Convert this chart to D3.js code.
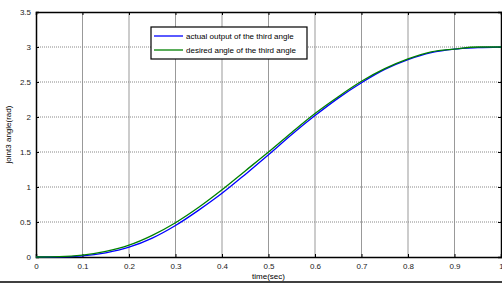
<!DOCTYPE html>
<meta charset="utf-8">
<title>joint3 angle</title>
<style>
    body { margin: 0; background: #fff; }
    text { font-family: "Liberation Sans", Arial, sans-serif; }
    .tick text { font-size: 8px; fill: #222; }
</style>

<body>
    <script src="https://d3js.org/d3.v7.min.js" charset="utf-8"></script>
    <script>
        // values
        var time = [0, 0.05, 0.1, 0.15, 0.2, 0.25, 0.3, 0.35, 0.4, 0.45, 0.5,
            0.55, 0.6, 0.65, 0.7, 0.75, 0.8, 0.85, 0.9, 0.95, 1.0];
        var actualAngle = [0, 0.001, 0.015, 0.06, 0.14, 0.27, 0.45, 0.67, 0.91, 1.18, 1.46,
            1.75, 2.02, 2.27, 2.49, 2.68, 2.82, 2.92, 2.97, 2.99, 3.0];
        var desiredAngle = [0, 0.004, 0.026, 0.08, 0.17, 0.31, 0.49, 0.71, 0.96, 1.23, 1.5,
            1.78, 2.05, 2.29, 2.51, 2.69, 2.83, 2.93, 2.97, 3.0, 3.0];
        var xTicks = [0, 0.1, 0.2, 0.3, 0.4, 0.5, 0.6, 0.7, 0.8, 0.9, 1];
        var yTicks = [0, 0.5, 1, 1.5, 2, 2.5, 3, 3.5];
        var seriesNames = ["actual output of the third angle", "desired angle of the third angle"];
        var seriesColors = ["#0000ff", "#008000"];

        var width = 502,
            height = 284;
        var plotLeft = 36, plotRight = 501, plotTop = 12, plotBottom = 257;

        var svg = d3.select("body").append("svg")
            .attr("width", width)
            .attr("height", height);

        var x = d3.scaleLinear().domain([0, 1]).range([plotLeft, plotRight]);
        var y = d3.scaleLinear().domain([0, 3.5]).range([plotBottom, plotTop]);

        // grid
        svg.append("g").selectAll("line").data(xTicks.slice(1, -1)).enter().append("line")
            .attr("x1", d => x(d)).attr("x2", d => x(d))
            .attr("y1", plotTop).attr("y2", plotBottom)
            .style("stroke", "#999").style("stroke-width", 1);
        svg.append("g").selectAll("line").data(yTicks.slice(1, -1)).enter().append("line")
            .attr("x1", plotLeft).attr("x2", plotRight)
            .attr("y1", d => y(d)).attr("y2", d => y(d))
            .style("stroke", "#888").style("stroke-width", 1)
            .style("stroke-dasharray", "1,1");

        // axes with inward ticks
        svg.append("g")
            .attr("transform", "translate(0," + plotBottom + ")")
            .call(d3.axisBottom(x).tickValues(xTicks).tickSize(-3).tickPadding(6)
                .tickFormat(d3.format("")));
        svg.append("g")
            .attr("transform", "translate(0," + plotTop + ")")
            .call(d3.axisTop(x).tickValues(xTicks).tickSize(-3).tickFormat(""));
        svg.append("g")
            .attr("transform", "translate(" + plotLeft + ",0)")
            .call(d3.axisLeft(y).tickValues(yTicks).tickSize(-3).tickPadding(5)
                .tickFormat(d3.format("")));
        svg.append("g")
            .attr("transform", "translate(" + plotRight + ",0)")
            .call(d3.axisRight(y).tickValues(yTicks).tickSize(-3).tickFormat(""));
        svg.selectAll(".domain").style("stroke", "#000").style("stroke-width", 1.5);
        svg.selectAll(".tick line").style("stroke", "#000");

        // curves
        var line = d3.line()
            .x((d, i) => x(time[i]))
            .y(d => y(d))
            .curve(d3.curveMonotoneX);
        [actualAngle, desiredAngle].forEach(function (s, k) {
            svg.append("path")
                .datum(s)
                .attr("d", line)
                .style("fill", "none")
                .style("stroke", seriesColors[k])
                .style("stroke-width", 1.3);
        });

        // legend
        var legend = svg.append("g").attr("transform", "translate(151,27)");
        legend.append("rect")
            .attr("width", 156).attr("height", 32)
            .style("fill", "#fff").style("stroke", "#000").style("stroke-width", 1.2);
        seriesNames.forEach(function (name, k) {
            legend.append("line")
                .attr("x1", 3).attr("x2", 32)
                .attr("y1", 9 + k * 14).attr("y2", 9 + k * 14)
                .style("stroke", seriesColors[k]).style("stroke-width", 1.3);
            legend.append("text")
                .attr("x", 35).attr("y", 12 + k * 14)
                .style("font-size", "8px")
                .text(name);
        });

        // axis labels
        svg.append("text")
            .attr("x", (plotLeft + plotRight) / 2).attr("y", 279)
            .attr("text-anchor", "middle")
            .style("font-size", "8px")
            .text("time(sec)");
        svg.append("text")
            .attr("transform", "translate(11," + ((plotTop + plotBottom) / 2) + ") rotate(-90)")
            .attr("text-anchor", "middle")
            .style("font-size", "8px")
            .text("joint3 angle(rad)");

        // figure bottom border
        svg.append("line")
            .attr("x1", 0).attr("x2", width)
            .attr("y1", 282).attr("y2", 282)
            .style("stroke", "#000").style("stroke-width", 1.5);
    </script>
</body>
